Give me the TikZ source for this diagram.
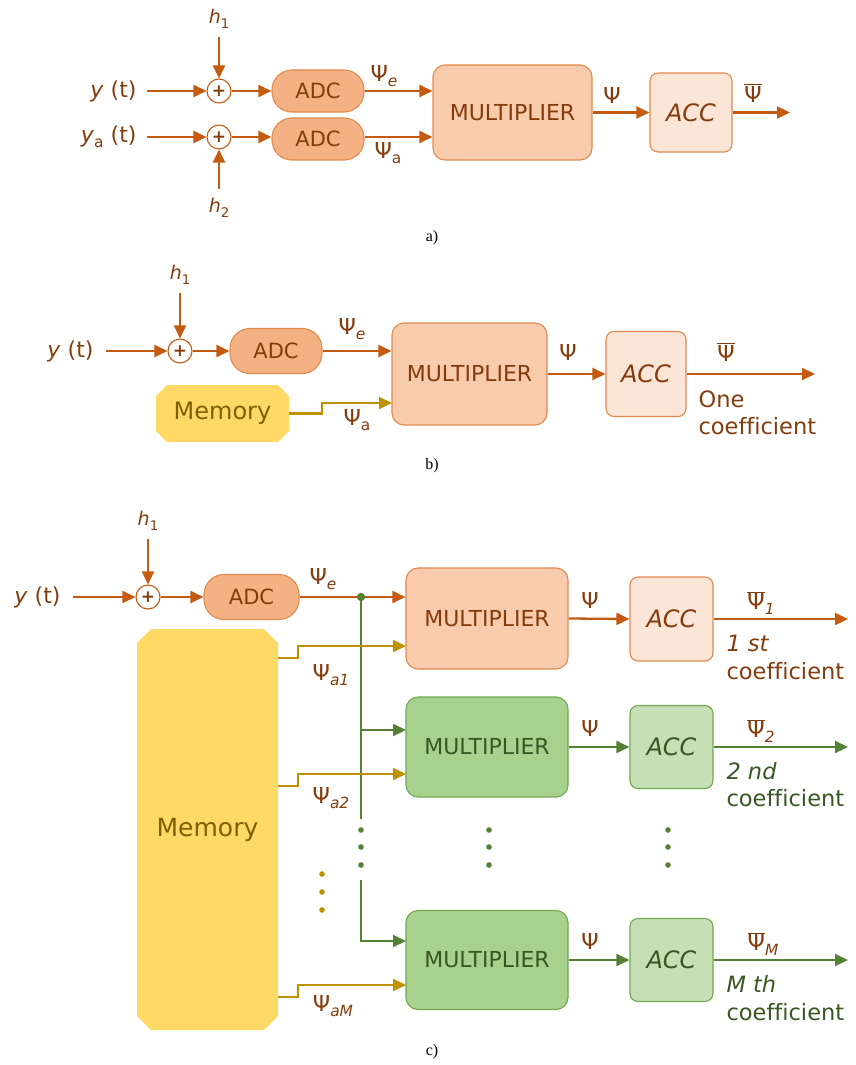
\documentclass[tikz,border=0pt]{standalone}
\usepackage{fontspec}
\usepackage{graphicx}
\setmainfont[Ligatures=NoCommon]{DejaVu Sans}
\newfontfamily\capfont{Liberation Serif}
\usetikzlibrary{arrows.meta,calc}
\definecolor{orL}{HTML}{C55A11}
\definecolor{orB}{HTML}{E08A4E}
\definecolor{adcF}{HTML}{F4B183}
\definecolor{multF}{HTML}{F8CBAD}
\definecolor{accF}{HTML}{FBE5D6}
\definecolor{txtBr}{HTML}{843C0C}
\definecolor{grL}{HTML}{548235}
\definecolor{grB}{HTML}{72A852}
\definecolor{multG}{HTML}{A9D18E}
\definecolor{accG}{HTML}{C5E0B4}
\definecolor{txtGr}{HTML}{385723}
\definecolor{goldL}{HTML}{BF9000}
\definecolor{memF}{HTML}{FFD966}
\definecolor{memT}{HTML}{7F6000}
\newcommand\lo[1]{\raisebox{-0.45ex}{\scalebox{0.7}{#1}}}
\newcommand\fsz[1]{\fontsize{#1}{#1}\selectfont}
\newcommand\psib{$\overline{\mbox{Ψ}}$}
\tikzset{
  tip/.style={-{Triangle[length=13pt,width=12pt]}},
  ol/.style={draw=orL, line width=2.3pt, tip},
  gdl/.style={draw=goldL, line width=2.1pt, tip},
  grl/.style={draw=grL, line width=2.1pt, tip},
  grplain/.style={draw=grL, line width=2.1pt},
  sumnode/.style={circle, draw=orL, line width=1.1pt, fill=white, minimum size=24pt, inner sep=0pt, font=\fsz{17}\bfseries, text=txtBr},
  adcbox/.style={draw=orB, fill=adcF, line width=1.1pt, rounded corners=20pt, text=txtBr, font=\fsz{21}},
  multo/.style={draw=orB, fill=multF, line width=1.1pt, rounded corners=12pt, text=txtBr, font=\fsz{22}},
  multg/.style={draw=grB, fill=multG, line width=1.1pt, rounded corners=12pt, text=txtGr, font=\fsz{22}},
  acco/.style={draw=orB, fill=accF, line width=1.1pt, rounded corners=8pt, text=txtBr, font=\fsz{24}\itshape},
  accg/.style={draw=grB, fill=accG, line width=1.1pt, rounded corners=8pt, text=txtGr, font=\fsz{24}\itshape},
  lbl/.style={text=txtBr, font=\fsz{22}},
  hl/.style={text=txtBr, font=\fsz{19}},
  psl/.style={text=txtBr, font=\fsz{22}},
  coef/.style={text=txtBr, font=\fsz{22.5}, anchor=west},
  coefg/.style={text=txtGr, font=\fsz{22.5}, anchor=west},
  memtext/.style={text=memT, font=\fsz{24}},
  capt/.style={font=\capfont\fsz{16}, text=black}
}
\begin{document}
\begin{tikzpicture}[x=1pt,y=-1pt]
\useasboundingbox (0,0) rectangle (855,1065);

% ================= a) =================
\node[sumnode] (s1) at (219,91) {+};
\node[sumnode] (s2) at (219,137) {+};
\node[lbl, anchor=east] (yA) at (140,91) {\textit{y} (t)};
\node[lbl, anchor=east] (yaA) at (140,137) {\textit{y}\lo{a} (t)};
\node[hl, anchor=south] (h1A) at (219,32) {\textit{h}\lo{1}};
\node[hl, anchor=north] (h2A) at (219,195) {\textit{h}\lo{2}};
\draw[ol, shorten <=7pt] (yA.east) -- (s1.west);
\draw[ol, shorten <=7pt] (yaA.east) -- (s2.west);
\draw[ol, shorten <=5pt] (h1A.south) -- (s1.north);
\draw[ol, shorten <=6pt] (h2A.north) -- (s2.south);
\node[adcbox, minimum width=92pt, minimum height=42pt] (adc1) at (318,91) {ADC};
\node[adcbox, minimum width=92pt, minimum height=42pt] (adc2) at (318,139) {ADC};
\draw[ol] (s1.east) -- (adc1.west);
\draw[ol] (s2.east) -- (s2.east -| adc2.west);
\node[multo, minimum width=159pt, minimum height=95pt] (mA) at (512.5,112.5) {MULTIPLIER};
\draw[ol] (adc1.east) -- (adc1.east -| mA.west);
\draw[ol] (s2.east -| adc2.east) -- (s2.east -| mA.west);
\node[psl] (peA) at (384,76) {Ψ\lo{\textit{e}}};
\node[psl] (paA) at (388,153) {Ψ\lo{a}};
\node[acco, minimum width=82pt, minimum height=79pt] (aA) at (691,112.5) {ACC};
\draw[ol] (mA.east) -- (aA.west);
\node[psl] (pA) at (612,95) {Ψ};
\node[psl] (pbA) at (753,93) {\psib};
\coordinate (oA) at (790,112.5);
\draw[ol] (aA.east) -- (oA);
\node[capt] (capA) at (432,238) {a)};

% ================= b) =================
\node[sumnode] (sB) at (180,351) {+};
\node[lbl, anchor=east] (yB) at (97,351) {\textit{y} (t)};
\node[hl, anchor=south] (h1B) at (180,288) {\textit{h}\lo{1}};
\draw[ol, shorten <=9pt] (yB.east) -- (sB.west);
\draw[ol, shorten <=5pt] (h1B.south) -- (sB.north);
\node[adcbox, minimum width=92pt, minimum height=45pt] (adcB) at (276,351) {ADC};
\draw[ol] (sB.east) -- (adcB.west);
\node[multo, minimum width=155pt, minimum height=102pt] (mB) at (469.5,374) {MULTIPLIER};
\draw[ol] (adcB.east) -- (adcB.east -| mB.west);
\node[psl] (peB) at (352,329) {Ψ\lo{\textit{e}}};
\fill[memF] (156,396) -- (167,385) -- (278,385) -- (289,396) -- (289,431) -- (278,442) -- (167,442) -- (156,431) -- cycle;
\node[memtext, minimum width=133pt, minimum height=57pt] (memB) at (222.5,413.5) {Memory};
\coordinate (mBin) at (392,403);
\draw[gdl] (memB.east) -- (322,413.5) |- (mBin);
\node[psl] (paB) at (357,420) {Ψ\lo{a}};
\node[acco, minimum width=80pt, minimum height=85pt] (aB) at (646,374) {ACC};
\draw[ol] (mB.east) -- (aB.west);
\node[psl] (pB) at (568,352) {Ψ};
\node[psl] (pbB) at (726,352) {\psib};
\coordinate (oB) at (815,374);
\draw[ol] (aB.east) -- (oB);
\node[coef] (c1B) at (695,399) {One};
\node[coef] (c2B) at (695,426) {coefficient};
\node[capt] (capB) at (432,466) {b)};

% ================= c) =================
\node[sumnode] (sC) at (148,597) {+};
\node[lbl, anchor=east] (yC) at (64,597) {\textit{y} (t)};
\node[hl, anchor=south] (h1C) at (148,534) {\textit{h}\lo{1}};
\draw[ol, shorten <=9pt] (yC.east) -- (sC.west);
\draw[ol, shorten <=5pt] (h1C.south) -- (sC.north);
\node[adcbox, minimum width=95pt, minimum height=45pt] (adcC) at (251.5,597) {ADC};
\draw[ol] (sC.east) -- (adcC.west);
\node[psl] (peC) at (323,579) {Ψ\lo{\textit{e}}};

% memory
\fill[memF] (137,643) -- (151,629) -- (264,629) -- (278,643) -- (278,1016) -- (264,1030) -- (151,1030) -- (137,1016) -- cycle;
\node[memtext, font=\fsz{25}, minimum width=141pt, minimum height=401pt] (memC) at (207.5,829.5) {Memory};

% multipliers / acc
\node[multo, minimum width=162pt, minimum height=101pt] (m1) at (487,618.5) {MULTIPLIER};
\node[acco, minimum width=83pt, minimum height=84pt] (a1) at (671.5,619) {ACC};
\node[multg, minimum width=162pt, minimum height=100pt] (m2) at (487,747) {MULTIPLIER};
\node[accg, minimum width=83pt, minimum height=83pt] (a2) at (671.5,747) {ACC};
\node[multg, minimum width=162pt, minimum height=99pt] (mM) at (487,960) {MULTIPLIER};
\node[accg, minimum width=83pt, minimum height=83pt] (aM) at (671.5,960) {ACC};

% ADC to multiplier 1, junction
\node[circle, fill=grL, inner sep=0pt, minimum size=8pt] (J) at (361,597) {};
\draw[ol] (adcC.east) -- (adcC.east -| m1.west);
\fill[grL] (J) circle (4pt);

% green bus
\coordinate (v1) at (361,819);
\coordinate (v2) at (361,880);
\coordinate (m2g) at (406,730);
\coordinate (mMg) at (406,941);
\draw[grplain] (J.center) -- (v1);
\draw[grl] (J.center |- m2g) -- (m2g);
\draw[grl] (v2) |- (mMg);
\foreach \yy in {830,847,865} {
  \fill[grL] (361,\yy) circle (2.8pt);
  \fill[grL] (489,\yy) circle (2.8pt);
  \fill[grL] (668,\yy) circle (2.8pt);
}
\foreach \yy in {874,892,910} { \fill[goldL] (322,\yy) circle (2.8pt); }

% memory outputs
\coordinate (m1a) at (406,646);
\coordinate (m2a) at (406,774);
\coordinate (mMa) at (406,985);
\draw[gdl] (memC.east |- 0,658) -- (298,658) |- (m1a);
\draw[gdl] (memC.east |- 0,786) -- (298,786) |- (m2a);
\draw[gdl] (memC.east |- 0,997) -- (298,997) |- (mMa);
\node[psl] (pa1) at (331,675) {Ψ\lo{\textit{a1}}};
\node[psl] (pa2) at (331,798) {Ψ\lo{\textit{a2}}};
\node[psl] (paM) at (333,1006) {Ψ\lo{\textit{aM}}};

% mult -> acc -> out
\draw[ol] (m1.east) -- (a1.west);
\draw[grl] (m2.east) -- (a2.west);
\draw[grl] (mM.east) -- (aM.west);
\node[psl] (p1) at (590,600) {Ψ};
\node[psl] (p2) at (590,728) {Ψ};
\node[psl] (pM) at (590,941) {Ψ};
\coordinate (o1) at (848,619);
\coordinate (o2) at (848,747);
\coordinate (oM) at (848,960);
\draw[ol] (a1.east) -- (o1);
\draw[grl] (a2.east) -- (o2);
\draw[grl] (aM.east) -- (oM);
\node[psl] (pb1) at (761,603) {\psib\lo{\textit{1}}};
\node[psl] (pb2) at (761,731) {\psib\lo{\textit{2}}};
\node[psl] (pbM) at (763,944) {\psib\lo{\textit{M}}};
\node[coef, font=\fsz{22.5}\itshape] (c11) at (723,643) {1 st};
\node[coef] (c12) at (723,671) {coefficient};
\node[coefg, font=\fsz{22.5}\itshape] (c21) at (723,771) {2 nd};
\node[coefg] (c22) at (723,798) {coefficient};
\node[coefg, font=\fsz{22.5}\itshape] (cM1) at (723,984) {M th};
\node[coefg] (cM2) at (723,1012) {coefficient};
\node[capt] (capC) at (432,1052) {c)};
\end{tikzpicture}
\end{document}
